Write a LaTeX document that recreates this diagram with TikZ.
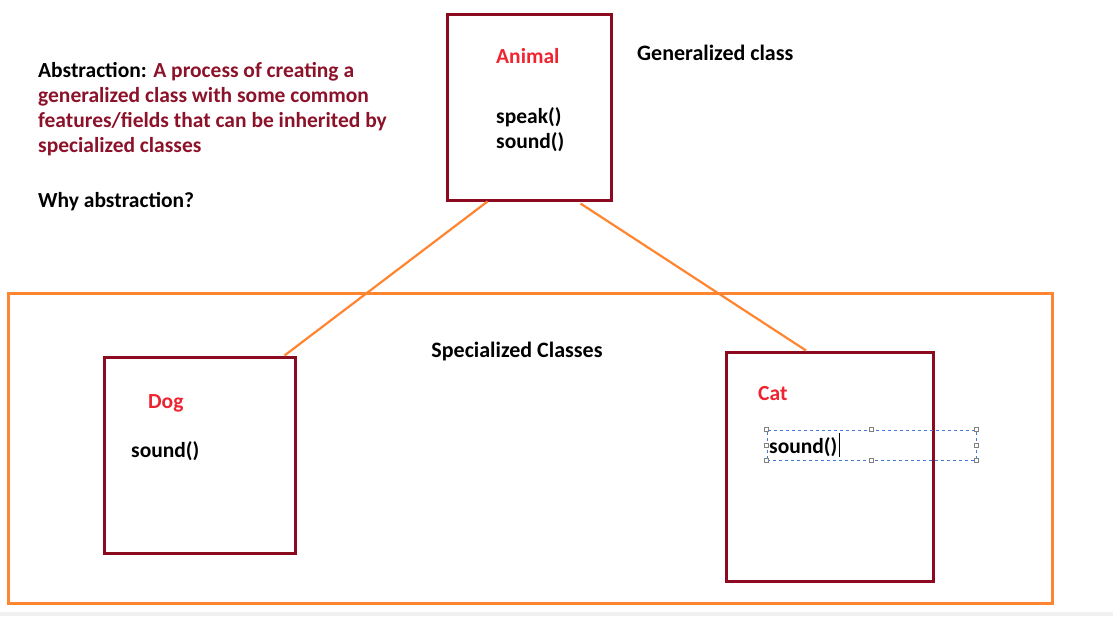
\documentclass[tikz,border=0pt]{standalone}
\usepackage{fontspec}
\setmainfont{Carlito}
\usepackage{tikz}
\usepackage{xcolor}

\definecolor{boxred}{RGB}{139,10,32}
\definecolor{namered}{RGB}{238,36,48}
\definecolor{defred}{RGB}{140,18,42}
\definecolor{linkorange}{RGB}{255,133,48}
\definecolor{selblue}{RGB}{70,120,215}

\begin{document}
\begin{tikzpicture}
  [x=1pt,y=-1pt,
   every node/.style={inner sep=0pt,font=\fontsize{21.5}{25}\selectfont\bfseries},
   classbox/.style={draw=boxred,line width=3pt,rectangle},
   classname/.style={anchor=base west,text=namered},
   member/.style={anchor=base west,text=black},
   link/.style={draw=linkorange,line width=2.2pt},
   handle/.style={draw=gray,fill=white,line width=.6pt,minimum size=4pt}]

  \useasboundingbox (0,0) rectangle (1113,616);
  \fill[black!6] (0,612) rectangle (1113,616);

  % text on the left
  \node[anchor=base west,align=left] (abstr) at (38,152)
    {Abstraction: \textcolor{defred}{A process of creating a}\\
     \textcolor{defred}{generalized class with some common}\\
     \textcolor{defred}{features/fields that can be inherited by}\\
     \textcolor{defred}{specialized classes}};
  \node[anchor=base west] (why) at (38,207) {Why abstraction?};

  % generalized class
  \node[classbox,minimum width=164pt,minimum height=186pt] (animal) at (529,107) {};
  \node[classname] (animalname) at (496,63) {Animal};
  \node[member] (animalspeak) at (496,123) {speak()};
  \node[member] (animalsound) at (496,148) {sound()};
  \node[anchor=base west,font=\fontsize{22}{25}\selectfont\bfseries] (general) at (637,60) {Generalized class};

  % specialized classes
  \node[draw=linkorange,line width=3pt,minimum width=1044pt,minimum height=310pt] (special) at (530,448) {};
  \node[anchor=base,font=\fontsize{22}{25}\selectfont\bfseries] (speclabel) at (517,357) {Specialized Classes};

  \node[classbox,minimum width=191pt,minimum height=196pt] (dog) at (199.5,455) {};
  \node[classname] (dogname) at (148,408) {Dog};
  \node[member] (dogsound) at (131,457) {sound()};

  \node[classbox,minimum width=207pt,minimum height=229pt] (cat) at (830,466.5) {};
  \node[classname] (catname) at (758,400) {Cat};
  \node[draw=selblue,dashed,line width=.8pt,minimum width=209pt,minimum height=30pt] (catsel) at (871.5,445) {};
  \node[member] (catsound) at (769,453) {sound()};
  \draw[line width=.8pt] ([xshift=1.5pt,yshift=-4pt]catsound.base east) -- ([xshift=1.5pt,yshift=20pt]catsound.base east);

  \foreach \a in {north west,north,north east,east,south east,south,south west,west}
    \node[handle] at (catsel.\a) {};

  % inheritance lines
  \draw[link] ([xshift=42pt]animal.south west) -- ([xshift=-12pt]dog.north east);
  \draw[link] ([xshift=135pt,yshift=-2pt]animal.south west) -- ([xshift=81pt]cat.north west);
\end{tikzpicture}
\end{document}
